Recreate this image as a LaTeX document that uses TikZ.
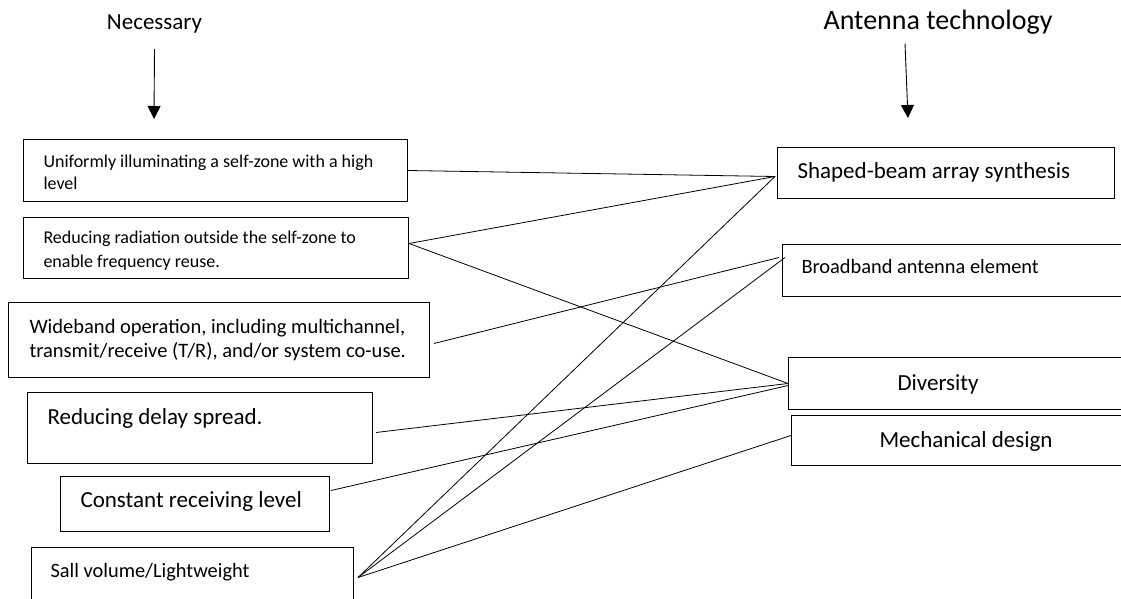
\documentclass[tikz,border=0pt]{standalone}
\usepackage{fontspec}
\setmainfont{Carlito}
\usetikzlibrary{arrows.meta}
\begin{document}
\begin{tikzpicture}[x=1pt, y=-1pt,
        box/.style = {draw, line width=1pt, anchor=north west, align=flush left, inner ysep=0pt},
        link/.style = {line width=0.8pt},
        arrow/.style = {line width=0.9pt, -{Triangle[width=13pt,length=13pt]}}]
    \useasboundingbox (0,0) rectangle (1121,599);
    \clip (0,0) rectangle (1121,599);

    % headings
    \node[anchor=base, inner sep=0pt, font=\fontsize{23}{27}\selectfont] (nec) at (154.5,30) {Necessary};
    \node[anchor=base, inner sep=0pt, font=\fontsize{28}{33}\selectfont] (ant) at (938,29.5) {Antenna technology};
    \coordinate (necTip) at (154,119);
    \coordinate (antTip) at (908,118);
    \draw[arrow] ([yshift=-15pt]nec.south) -- (necTip);
    \draw[arrow] ([xshift=-33pt,yshift=-9pt]ant.south) -- (antTip);

    % left column
    \node[box, text width=344pt, inner xsep=20pt, text height=28pt, text depth=34pt,
        font=\fontsize{18}{22}\selectfont] (illum) at (23,139)
        {\mbox{Uniformly illuminating a self-zone with a high}\\level};
    \node[box, text width=345pt, inner xsep=20pt, text height=26pt, text depth=35pt,
        font=\fontsize{18}{23.5}\selectfont] (reduce) at (23,217)
        {\mbox{Reducing radiation outside the self-zone to}\\enable frequency reuse.};
    \node[box, text width=379pt, inner xsep=21pt, text height=31pt, text depth=44pt,
        font=\fontsize{20.5}{23.5}\selectfont] (wide) at (8,302)
        {\mbox{Wideband operation, including multichannel,}\\\mbox{transmit/receive (T/R), and/or system co-use.}};
    \node[box, text width=305pt, inner xsep=20pt, text height=31.5pt, text depth=39.5pt,
        font=\fontsize{23}{27}\selectfont] (delay) at (27,392)
        {Reducing delay spread.};
    \node[box, text width=229pt, inner xsep=20pt, text height=31pt, text depth=24pt,
        font=\fontsize{23}{27}\selectfont] (level) at (60,476)
        {Constant receiving level};
    \node[box, text width=284pt, inner xsep=19pt, text height=30pt, text depth=30pt,
        font=\fontsize{20.4}{24}\selectfont] (light) at (31,547)
        {Sall volume/Lightweight};

    % right column
    \node[box, text width=297pt, inner xsep=20pt, text height=31pt, text depth=20pt,
        font=\fontsize{23}{27}\selectfont] (shaped) at (777,147)
        {Shaped-beam array synthesis};
    \node[box, text width=340pt, inner xsep=19pt, text height=29pt, text depth=23pt,
        font=\fontsize{20.4}{24}\selectfont] (broad) at (782,244)
        {Broadband antenna element};
    \node[box, text width=154pt, inner xsep=109pt, text height=33pt, text depth=19pt,
        font=\fontsize{23}{27}\selectfont] (divers) at (788,357)
        {Diversity};
    \node[box, text width=193pt, inner xsep=88pt, text height=31.5pt, text depth=18.5pt,
        font=\fontsize{23}{27}\selectfont] (mech) at (791,415)
        {Mechanical design};

    % links
    \draw[link] (illum.east) -- ([xshift=-2pt,yshift=-3.5pt]shaped.west);
    \draw[link] ([yshift=4.5pt]reduce.east) -- ([xshift=-2pt,yshift=-3.5pt]shaped.west);
    \draw[link] ([yshift=4.5pt]reduce.east) -- (divers.west);
    \draw[link] ([xshift=4pt,yshift=-3.5pt]wide.east) -- ([xshift=-3pt,yshift=13pt]broad.west);
    \draw[link] ([xshift=3pt,yshift=-4.5pt]delay.east) -- (divers.west);
    \draw[link] ([xshift=1pt,yshift=13.5pt]level.east) -- ([yshift=-2pt]divers.west);
    \draw[link] ([xshift=4pt]light.east) -- ([xshift=-2pt,yshift=-3.5pt]shaped.west);
    \draw[link] ([xshift=4pt]light.east) -- ([xshift=3pt,yshift=13pt]broad.west);
    \draw[link] ([xshift=4pt]light.east) -- ([yshift=5pt]mech.west);
\end{tikzpicture}
\end{document}
